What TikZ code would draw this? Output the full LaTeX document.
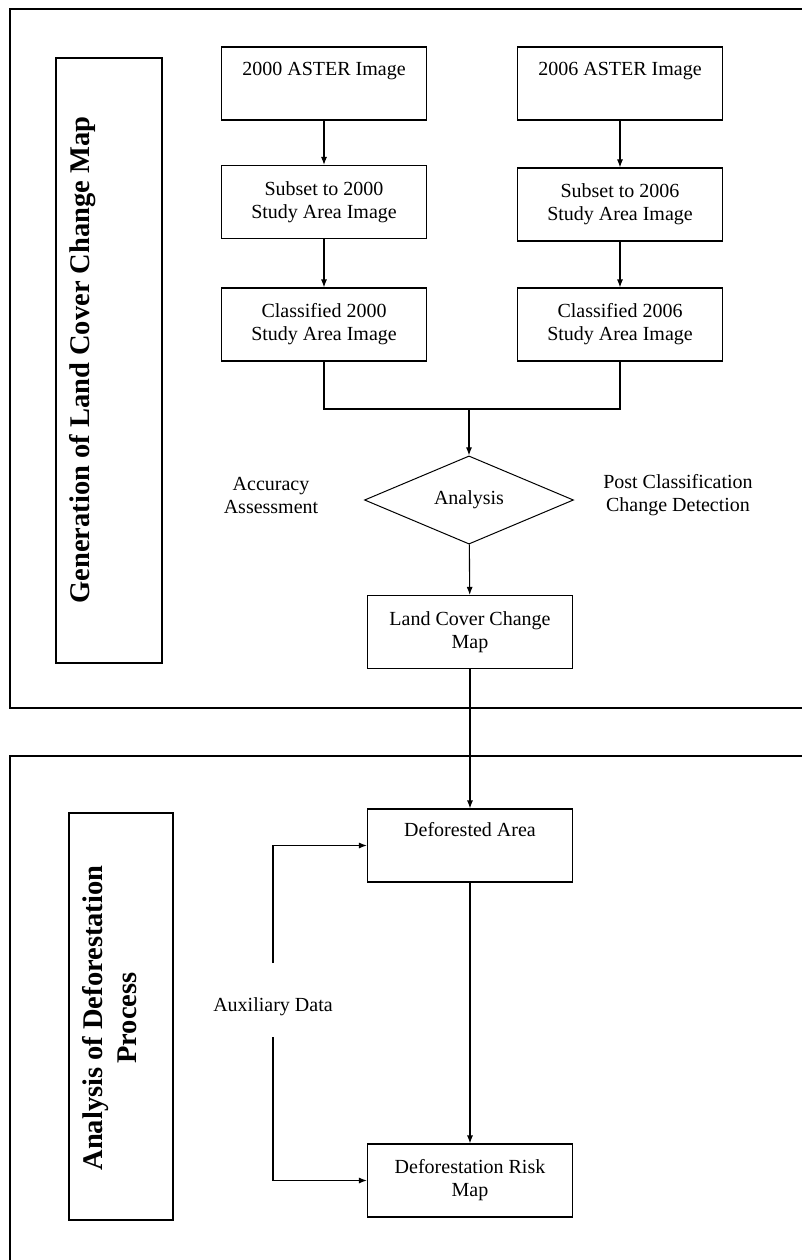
\documentclass[tikz,border=0pt]{standalone}
\usepackage{fontspec}
\setmainfont{Liberation Serif}
\usetikzlibrary{arrows.meta,shapes.geometric}
\begin{document}
\begin{tikzpicture}[x=1pt,y=-1pt,
    box/.style={draw,line width=1.1pt,minimum width=205pt,minimum height=73pt,
      inner sep=0pt,align=center,font=\fontsize{20}{23}\selectfont},
    decision/.style={draw,diamond,line width=1pt,minimum width=209pt,
      minimum height=88pt,inner sep=0pt,font=\fontsize{20}{23}\selectfont},
    note/.style={align=center,font=\fontsize{20}{23}\selectfont},
    sidebox/.style={draw,line width=1.1pt,inner sep=0pt},
    sidetext/.style={rotate=90,align=center,
      font=\fontsize{28.5}{34}\selectfont\bfseries},
    frame/.style={line width=1.2pt},
    link/.style={line width=1.1pt},
    arr/.style={link,-{Latex[length=8pt,width=6pt]}}]
  \useasboundingbox (0,0) rectangle (802,1260);
  \draw[frame] (802,9) -- (10,9) -- (10,708) -- (802,708);
  \draw[frame] (802,756) -- (10,756) -- (10,1260);
  \node[sidebox,minimum width=106pt,minimum height=605pt] (genbox) at (109,360.5) {};
  \node[sidetext] (gentext) at (83,360) {Generation of Land Cover Change Map};
  \node[sidebox,minimum width=104pt,minimum height=407pt] (analbox) at (121,1016.5) {};
  \node[sidetext] (analtext) at (110,1018) {Analysis of Deforestation\\Process};
  \node[box] (aster00) at (324,83.5) {2000 ASTER Image\\[6pt]\mbox{}};
  \node[box] (aster06) at (620,83.5) {2006 ASTER Image\\[6pt]\mbox{}};
  \node[box] (sub00) at (324,202) {Subset to 2000\\Study Area Image};
  \node[box] (sub06) at (620,204.5) {Subset to 2006\\Study Area Image};
  \node[box] (cls00) at (324,324.5) {Classified 2000\\Study Area Image};
  \node[box] (cls06) at (620,324.5) {Classified 2006\\Study Area Image};
  \node[decision] (analysis) at (469,500) {Analysis};
  \node[note] (acc) at (271,495) {Accuracy\\Assessment};
  \node[note] (post) at (678,495) {Post Classification\\Change Detection};
  \node[box] (lcmap) at (470,632) {Land Cover Change\\Map};
  \node[box] (defarea) at (470,845.5) {Deforested Area\\[10pt]\mbox{}};
  \node[box] (riskmap) at (470,1180.5) {Deforestation Risk\\Map};
  \node[note] (aux) at (273,1007) {Auxiliary Data};
  \coordinate (join) at (469,409);
  \coordinate (auxtop) at (273,963);
  \coordinate (auxbot) at (273,1037);
  \draw[arr] (aster00) -- (sub00);
  \draw[arr] (sub00) -- (cls00);
  \draw[arr] (aster06) -- (sub06);
  \draw[arr] (sub06) -- (cls06);
  \draw[link] (cls00.south) |- (join) -| (cls06.south);
  \draw[arr] (join) -- (analysis);
  \draw[arr] (analysis) -- (lcmap);
  \draw[arr] (lcmap) -- (defarea);
  \draw[arr] (defarea) -- (riskmap);
  \draw[arr] (auxtop) |- (defarea.west);
  \draw[arr] (auxbot) |- (riskmap.west);
\end{tikzpicture}
\end{document}
